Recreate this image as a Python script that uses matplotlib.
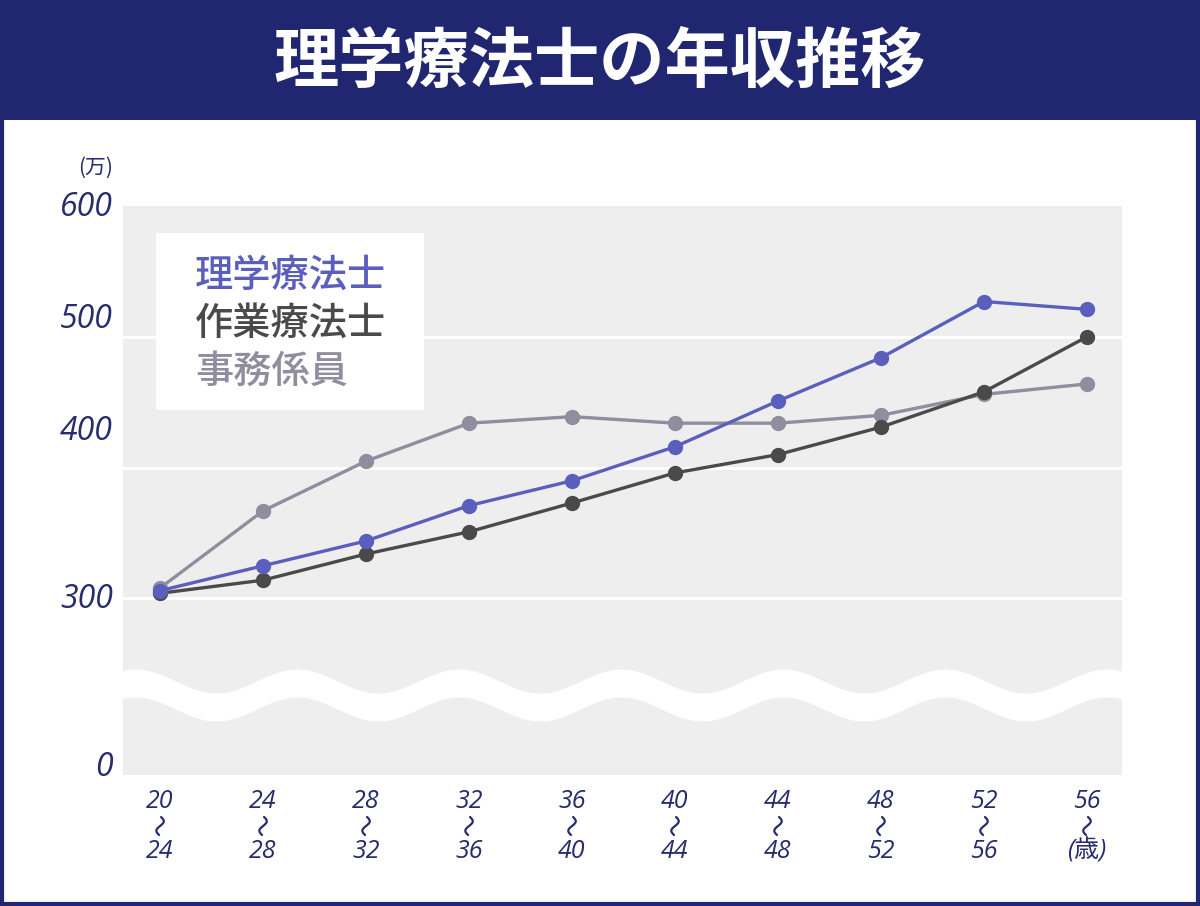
import numpy as np
import matplotlib
matplotlib.use("Agg")
import matplotlib.pyplot as plt
from matplotlib.patches import Rectangle
from matplotlib.lines import Line2D

plt.rcParams['font.family'] = ['Noto Sans CJK JP', 'DejaVu Sans']

# data (万円)
ages_from = ["20", "24", "28", "32", "36", "40", "44", "48", "52", "56"]
ages_to = ["24", "28", "32", "36", "40", "44", "48", "52", "56", "(歳)"]
pt = [306, 325, 344, 371, 390, 416, 451, 484, 527, 521]      # 理学療法士
ot = [304, 314, 334, 351, 373, 396, 410, 431, 458, 500]      # 作業療法士
clerk = [308, 367, 405, 434, 439, 434, 434, 440, 456, 464]   # 事務係員
series_names = ["理学療法士", "作業療法士", "事務係員"]
grid_vals = [500, 400, 300]
ytick_labels = ["600", "500", "400", "300", "0"]

NAVY = "#212671"
TXT = "#262c6c"
colors = ["#5a5fbe", "#4a4a4a", "#8f8d9e"]

W, H = 1200, 906
fig = plt.figure(figsize=(W / 100, H / 100), dpi=100)
fig.patch.set_facecolor("white")


def fy(py):
    return 1 - py / H


def fx(px):
    return px / W


# title bar
fig.patches.append(Rectangle((0, fy(120)), 1, 120 / H, transform=fig.transFigure,
                             facecolor=NAVY, edgecolor="none", zorder=0))
# frame
fig.patches.append(Rectangle((0.0015, 0.002), 0.997, 0.99, transform=fig.transFigure,
                             facecolor="none", edgecolor=NAVY, lw=3, zorder=0))
fig.text(0.5, fy(62), "理学療法士の年収推移", color="white", fontsize=47,
         fontweight="bold", ha="center", va="center")

ax_left, ax_right, ax_top, ax_bot = 123, 1122, 206, 775
ax = fig.add_axes([fx(ax_left), fy(ax_bot), (ax_right - ax_left) / W, (ax_bot - ax_top) / H])
ax.set_facecolor("#eeeeee")
for s in ax.spines.values():
    s.set_visible(False)

x = np.arange(len(ages_from))
ax.set_xlim(-0.36, 9.34)
ymax = 600
ymin = 600 - (ax_bot - ax_top) / 1.3083
ax.set_ylim(ymin, ymax)
ax.set_xticks([])
ax.set_yticks([])

for g in grid_vals:
    ax.axhline(g, color="white", lw=2, zorder=1)

# wavy break
xw = np.linspace(-0.5, 9.5, 800)
period = 162 / 103
phase = -25 / 103
centre = 226.2 + 9.2 * np.cos(2 * np.pi * (xw - phase) / period)
ax.fill_between(xw, centre - 10.7, centre + 10.7, color="white", lw=0, zorder=1)

for vals, c in zip([clerk, ot, pt], [colors[2], colors[1], colors[0]]):
    ax.plot(x, vals, color=c, lw=2.4, marker="o", markersize=10, zorder=3)

# legend box
fig.patches.append(Rectangle((fx(156), fy(410)), (424 - 156) / W, (410 - 233) / H,
                             transform=fig.transFigure, facecolor="white",
                             edgecolor="none", zorder=5))
for i, (name, c) in enumerate(zip(series_names, colors)):
    fig.text(fx(195), fy(276 + 48 * i), name, color=c, fontsize=27.5,
             fontweight="medium", ha="left", va="center", zorder=6)

# y labels
ylab_py = [207, 320, 432, 599, 768]
for lab, py in zip(ytick_labels, ylab_py):
    fig.text(fx(113), fy(py), lab, color=TXT, fontsize=23, style="italic",
             family=["Open Sans", "DejaVu Sans"], ha="right", va="center")
fig.text(fx(113), fy(168), "(万)", color=TXT, fontsize=15, style="italic",
         ha="right", va="center")

# x labels: from / wavy dash / to
s = np.linspace(0, 1, 40)
for xi, a, b in zip(x, ages_from, ages_to):
    xp = ax_left + (xi + 0.36) / 9.70 * (ax_right - ax_left)
    fig.text(fx(xp), fy(801), a, color=TXT, fontsize=18, style="italic",
             family=["Open Sans", "DejaVu Sans"], ha="center", va="center")
    wx = xp + 3.2 * np.sin(2 * np.pi * s) - 2.0 * (s - 0.5)
    wy = 817 + 18 * s
    fig.add_artist(Line2D(fx(wx), fy(wy), transform=fig.transFigure,
                          color=TXT, lw=1.6, solid_capstyle="round"))
    fig.text(fx(xp), fy(851), b, color=TXT, fontsize=18, style="italic",
             family=["Open Sans", "Noto Sans CJK JP", "DejaVu Sans"],
             ha="center", va="center")

fig.savefig("out.png", dpi=100)
